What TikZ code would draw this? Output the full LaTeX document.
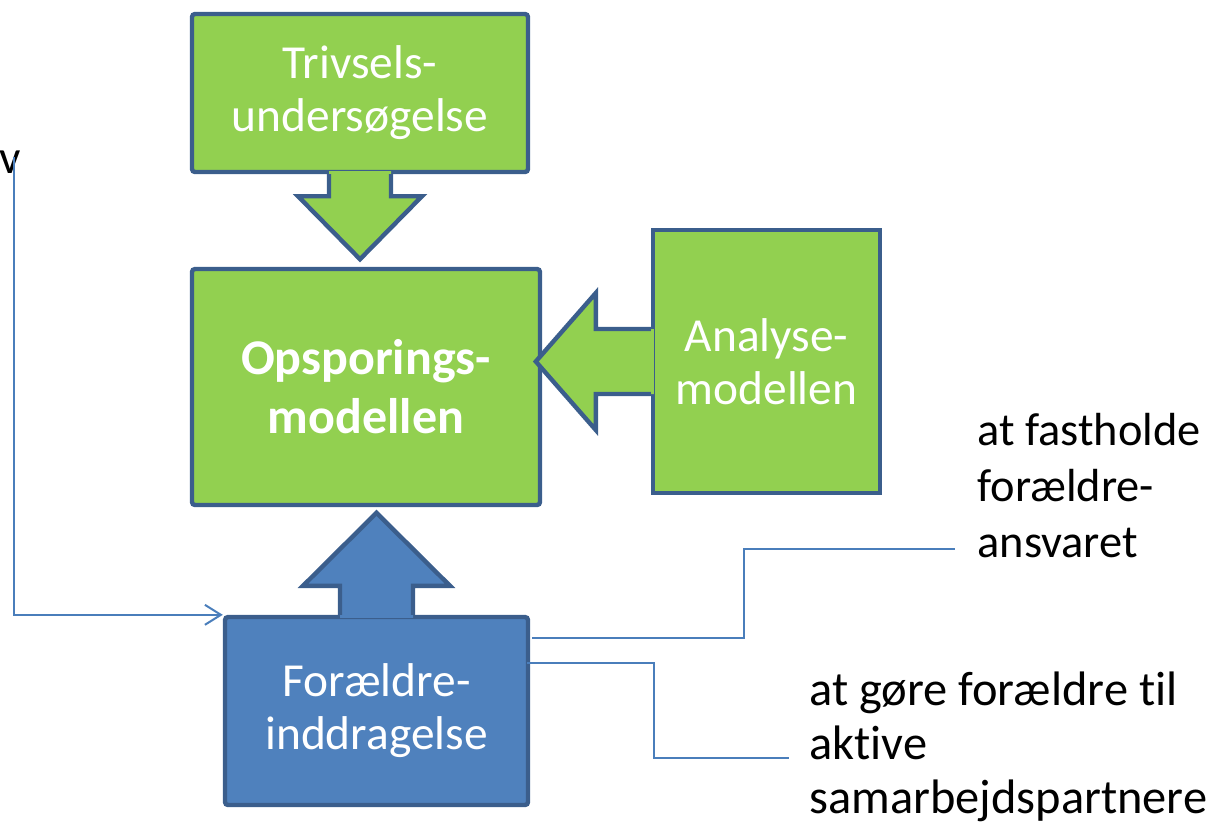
\documentclass[tikz,border=0pt]{standalone}
\usepackage{fontspec}
\setmainfont{Carlito}[Ligatures=NoCommon]
\usetikzlibrary{calc,arrows.meta}

\definecolor{boxgreen}{HTML}{92D050}
\definecolor{boxblue}{HTML}{4F81BD}
\definecolor{rimblue}{HTML}{3B5E8C}
\definecolor{linkblue}{HTML}{4A7EBB}

\begin{document}
\begin{tikzpicture}
    [
    x = 0.5pt, y = -0.5pt,
    every node/.style = {font=\fontsize{23.7}{26.5}\selectfont, align=center},
    greenbox/.style   = {rectangle, draw=rimblue, fill=boxgreen, line width=2.2pt,
                         rounded corners=1.5pt, text=white, inner sep=0pt},
    bluebox/.style    = {greenbox, fill=boxblue},
    rim/.style        = {draw=rimblue, line width=2.2pt, line join=miter},
    link/.style       = {draw=linkblue, line width=1pt},
    note/.style       = {align=left, anchor=base west, inner sep=0pt,
                         font=\fontsize{23.2}{28}\selectfont}
    ]
    \useasboundingbox (0,0) rectangle (1208,837);

    % boxes
    \node [greenbox, minimum width=168pt, minimum height=79pt] (triv) at (360,93)
        {Trivsels-\\undersøgelse};
    \node [greenbox, minimum width=174pt, minimum height=118pt,
           font=\fontsize{25}{29.5}\selectfont\bfseries] (opsp) at (366,387)
        {Opsporings-\\modellen};
    \node [greenbox, rounded corners=0pt, minimum width=113.5pt, minimum height=131.5pt] (ana) at (766.5,361.5)
        {Analyse-\\modellen};
    \node [bluebox, minimum width=151.5pt, minimum height=94pt] (forael) at (376.5,711)
        {Forældre-\\inddragelse};

    % block arrows, merged into their boxes
    \fill [boxgreen] ($(triv.south)+(-31,-3)$) -- ($(triv.south)+(-31,22)$) -- ($(triv.south)+(-62,22)$)
        -- ($(triv.south)+(0,85)$) -- ($(triv.south)+(62,22)$) -- ($(triv.south)+(31,22)$)
        -- ($(triv.south)+(31,-3)$) -- cycle;
    \draw [rim] ($(triv.south)+(-31,0)$) -- ($(triv.south)+(-31,22)$) -- ($(triv.south)+(-62,22)$)
        -- ($(triv.south)+(0,85)$) -- ($(triv.south)+(62,22)$) -- ($(triv.south)+(31,22)$)
        -- ($(triv.south)+(31,0)$);

    \fill [boxgreen] ($(ana.west)+(3,-32.5)$) -- ($(ana.west)+(-55,-32.5)$) -- ($(ana.west)+(-55,-68.5)$)
        -- ($(ana.west)+(-115,0)$) -- ($(ana.west)+(-55,68.5)$) -- ($(ana.west)+(-55,32.5)$)
        -- ($(ana.west)+(3,32.5)$) -- cycle;
    \draw [rim] ($(ana.west)+(0,-32.5)$) -- ($(ana.west)+(-55,-32.5)$) -- ($(ana.west)+(-55,-68.5)$)
        -- ($(ana.west)+(-115,0)$) -- ($(ana.west)+(-55,68.5)$) -- ($(ana.west)+(-55,32.5)$)
        -- ($(ana.west)+(0,32.5)$);

    \fill [boxblue] ($(forael.north)+(-36.5,3)$) -- ($(forael.north)+(-36.5,-29)$) -- ($(forael.north)+(-73.5,-29)$)
        -- ($(forael.north)+(0,-102)$) -- ($(forael.north)+(73.5,-29)$) -- ($(forael.north)+(36.5,-29)$)
        -- ($(forael.north)+(36.5,3)$) -- cycle;
    \draw [rim] ($(forael.north)+(-36.5,0)$) -- ($(forael.north)+(-36.5,-29)$) -- ($(forael.north)+(-73.5,-29)$)
        -- ($(forael.north)+(0,-102)$) -- ($(forael.north)+(73.5,-29)$) -- ($(forael.north)+(36.5,-29)$)
        -- ($(forael.north)+(36.5,0)$);

    % notes and connectors
    \node [inner sep=0pt, anchor=base] (cutv) at (10,173) {v};
    \coordinate (vfoot) at (14,157);
    \draw [link, -{Straight Barb[length=8pt, width=10pt]}] (vfoot) |- (forael.north west);

    \node [note] (fasth) at (977,557) {at fastholde\\forældre-\\ansvaret};
    \node [note, font=\fontsize{24.2}{27}\selectfont] (gore) at (809,813) {at gøre forældre til\\aktive\\samarbejdspartnere};
    \coordinate (fastend) at (955,549);
    \coordinate (goreend) at (789,758);
    \draw [link] ($(forael.east)+(2,-73)$) -| (744,549) -- (fastend);
    \draw [link] ($(forael.east)+(-3,-48)$) -| (654,758) -- (goreend);
\end{tikzpicture}
\end{document}
